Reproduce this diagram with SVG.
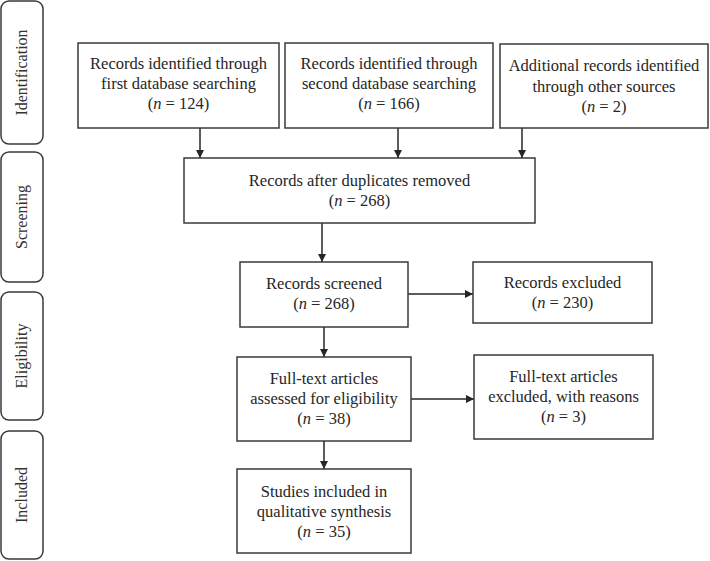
<svg xmlns="http://www.w3.org/2000/svg" width="710" height="561" viewBox="0 0 710 561">
<defs>
<style>
.box{fill:#fff;stroke:#3a3a3a;stroke-width:1.5}
.side{fill:#fff;stroke:#3a3a3a;stroke-width:1.5}
.t{font-family:"Liberation Serif","Times New Roman",serif;font-size:16.5px;fill:#262626;text-anchor:middle}
.s{font-family:"Liberation Serif","Times New Roman",serif;font-size:16px;fill:#333;text-anchor:middle}
.c{stroke:#262626;stroke-width:1.5;fill:none;marker-end:url(#ah)}
</style>
<marker id="ah" viewBox="0 0 10 10" refX="10" refY="5" markerWidth="8" markerHeight="8" markerUnits="userSpaceOnUse" orient="auto">
<path d="M0,0 L10,5 L0,10 z" fill="#262626"/>
</marker>
</defs>
<rect width="710" height="561" fill="#fff"/>

<g id="phase-identification"><rect class="side" x="1" y="1" width="42" height="143" rx="8"/><text class="s" transform="translate(27,72.5) rotate(-90)">Identification</text></g>
<g id="phase-screening"><rect class="side" x="1" y="152" width="42" height="130" rx="8"/><text class="s" transform="translate(27,217) rotate(-90)">Screening</text></g>
<g id="phase-eligibility"><rect class="side" x="1" y="292" width="42" height="128" rx="8"/><text class="s" transform="translate(27,356) rotate(-90)">Eligibility</text></g>
<g id="phase-included"><rect class="side" x="1" y="431" width="42" height="128" rx="8"/><text class="s" transform="translate(27,495) rotate(-90)">Included</text></g>

<g id="connectors">
<line class="c" x1="200" y1="128" x2="200" y2="158"/>
<line class="c" x1="398" y1="128" x2="398" y2="158"/>
<line class="c" x1="522" y1="128" x2="522" y2="158"/>
<line class="c" x1="322" y1="223" x2="322" y2="262"/>
<line class="c" x1="408" y1="294" x2="473" y2="294"/>
<line class="c" x1="324" y1="327" x2="324" y2="357"/>
<line class="c" x1="411" y1="399" x2="474" y2="399"/>
<line class="c" x1="324" y1="441" x2="324" y2="469"/>
</g>

<g id="n1"><rect class="box" x="78" y="43" width="201" height="85"/>
<text class="t" x="178.5" y="69">Records identified through</text>
<text class="t" x="178.5" y="89">first database searching</text>
<text class="t" x="178.5" y="109">(<tspan font-style="italic">n</tspan> = 124)</text></g>

<g id="n2"><rect class="box" x="285" y="43" width="208" height="85"/>
<text class="t" x="389" y="69">Records identified through</text>
<text class="t" x="389" y="89">second database searching</text>
<text class="t" x="389" y="109">(<tspan font-style="italic">n</tspan> = 166)</text></g>

<g id="n3"><rect class="box" x="500" y="44" width="208" height="84"/>
<text class="t" x="604" y="71">Additional records identified</text>
<text class="t" x="604" y="92">through other sources</text>
<text class="t" x="604" y="112">(<tspan font-style="italic">n</tspan> = 2)</text></g>

<g id="n4"><rect class="box" x="184" y="158" width="351" height="65"/>
<text class="t" x="359.5" y="186">Records after duplicates removed</text>
<text class="t" x="359.5" y="206">(<tspan font-style="italic">n</tspan> = 268)</text></g>

<g id="n5"><rect class="box" x="240" y="262" width="168" height="65"/>
<text class="t" x="324" y="289">Records screened</text>
<text class="t" x="324" y="309">(<tspan font-style="italic">n</tspan> = 268)</text></g>

<g id="n6"><rect class="box" x="473" y="262" width="179" height="61"/>
<text class="t" x="562.5" y="288">Records excluded</text>
<text class="t" x="562.5" y="308">(<tspan font-style="italic">n</tspan> = 230)</text></g>

<g id="n7"><rect class="box" x="237" y="357" width="174" height="84"/>
<text class="t" x="324" y="384">Full-text articles</text>
<text class="t" x="324" y="404">assessed for eligibility</text>
<text class="t" x="324" y="424">(<tspan font-style="italic">n</tspan> = 38)</text></g>

<g id="n8"><rect class="box" x="474" y="355" width="179" height="84"/>
<text class="t" x="563.5" y="382">Full-text articles</text>
<text class="t" x="563.5" y="402">excluded, with reasons</text>
<text class="t" x="563.5" y="422">(<tspan font-style="italic">n</tspan> = 3)</text></g>

<g id="n9"><rect class="box" x="237" y="469" width="174" height="84"/>
<text class="t" x="324" y="497">Studies included in</text>
<text class="t" x="324" y="517">qualitative synthesis</text>
<text class="t" x="324" y="537">(<tspan font-style="italic">n</tspan> = 35)</text></g>
</svg>
